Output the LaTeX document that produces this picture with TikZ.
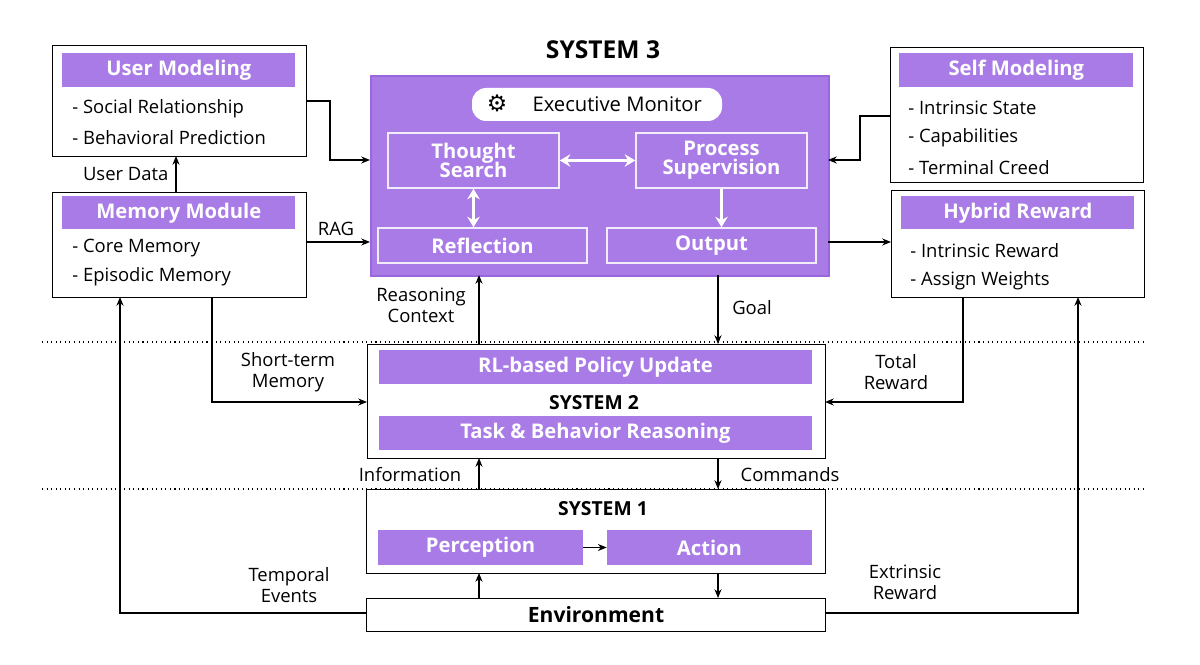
\documentclass[tikz,border=0pt]{standalone}
\usepackage{fontspec}
\setmainfont{Open Sans}
\usetikzlibrary{arrows.meta}
\definecolor{pp}{HTML}{A97BE6}
\definecolor{ppd}{HTML}{9A66DD}
\begin{document}
\begin{tikzpicture}[x=0.02cm,y=-0.02cm,
 box/.style={draw=black,line width=0.6pt,fill=white},
 hdr/.style={fill=pp,text=white,font=\bfseries\fontsize{11.5}{13}\selectfont,inner sep=0},
 item/.style={anchor=west,font=\fontsize{10.5}{12}\selectfont,inner sep=0},
 inner/.style={draw=white!85!pp,line width=0.8pt,text=white,font=\bfseries\fontsize{11.5}{13}\selectfont,inner sep=0,align=center},
 lab/.style={font=\fontsize{10.5}{12}\selectfont,align=center,inner sep=0},
 sys/.style={font=\rmfamily\bfseries\fontsize{11}{13}\selectfont,inner sep=0},
 arr/.style={-{Stealth[length=5pt,width=4pt]},line width=0.6pt},
 warr/.style={{Stealth[length=6pt,width=7pt]}-{Stealth[length=6pt,width=7pt]},white,line width=1.6pt}]
\useasboundingbox (0,0) rectangle (1200,665);
% user modeling
\node[box,minimum width=254*0.02cm,minimum height=111*0.02cm,anchor=north west] (um) at (52,45) {};
\node[hdr,minimum width=233*0.02cm,minimum height=34*0.02cm,anchor=north west] (umh) at (62,53) {User Modeling};
\node[item] (um1) at (72,109) {- Social Relationship};
\node[item] (um2) at (72,138) {- Behavioral Prediction};
% memory
\node[box,minimum width=254*0.02cm,minimum height=105*0.02cm,anchor=north west] (mm) at (52,192) {};
\node[hdr,minimum width=233*0.02cm,minimum height=33*0.02cm,anchor=north west] (mmh) at (62,196) {Memory Module};
\node[item] (mm1) at (72,248) {- Core Memory};
\node[item] (mm2) at (72,277) {- Episodic Memory};
% self modeling
\node[box,minimum width=253*0.02cm,minimum height=135*0.02cm,anchor=north west] (sm) at (890,47) {};
\node[hdr,minimum width=234*0.02cm,minimum height=34*0.02cm,anchor=north west] (smh) at (899,53) {Self Modeling};
\node[item] (sm1) at (908,108) {- Intrinsic State};
\node[item] (sm2) at (908,138) {- Capabilities};
\node[item] (sm3) at (908,168) {- Terminal Creed};
% hybrid reward
\node[box,minimum width=253*0.02cm,minimum height=107*0.02cm,anchor=north west] (hr) at (891,190) {};
\node[hdr,minimum width=233*0.02cm,minimum height=33*0.02cm,anchor=north west] (hrh) at (901,196) {Hybrid Reward};
\node[item] (hr1) at (910,251) {- Intrinsic Reward};
\node[item] (hr2) at (910,281) {- Assign Weights};
% system 3
\node[sys,font=\rmfamily\bfseries\fontsize{14}{16}\selectfont] (t3) at (603,50) {SYSTEM 3};
\node[draw=ppd,line width=1.2pt,fill=pp,minimum width=458*0.02cm,minimum height=200*0.02cm,anchor=north west,inner sep=0] (s3) at (370,75) {};
\node[fill=white,rounded corners=8pt,minimum width=250*0.02cm,minimum height=33*0.02cm,font=\fontsize{11.5}{13}\selectfont,inner sep=0] (em) at (597,104.5) {\hspace{2em}Executive Monitor};
\node[font=\fontsize{13}{13}\selectfont,inner sep=0] (head) at (497,103) {\fontspec{DejaVu Sans}⚙};
\node[inner,minimum width=171*0.02cm,minimum height=55*0.02cm] (ts) at (473.5,160.5) {Thought\\[-2pt]Search};
\node[inner,minimum width=171*0.02cm,minimum height=55*0.02cm] (ps) at (721.5,160.5) {Process\\[-2pt]Supervision};
\node[inner,minimum width=209*0.02cm,minimum height=35*0.02cm] (rf) at (482.5,245.5) {Reflection};
\node[inner,minimum width=209*0.02cm,minimum height=35*0.02cm] (op) at (711.5,245.5) {Output};
\draw[warr] (ts) -- (ps);
\draw[warr] (ts) -- (ts|-rf.north);
\draw[-{Stealth[length=6pt,width=7pt]},white,line width=1.6pt] (ps) -- (ps|-op.north);
% system 2
\node[box,minimum width=458*0.02cm,minimum height=114*0.02cm,anchor=north west] (s2) at (367,344) {};
\node[hdr,minimum width=433*0.02cm,minimum height=34*0.02cm] (rl) at (595.5,367) {RL-based Policy Update};
\node[sys] (t2) at (594,403) {SYSTEM 2};
\node[hdr,minimum width=433*0.02cm,minimum height=34*0.02cm] (tb) at (595.5,433) {Task \& Behavior Reasoning};
% system 1
\node[box,minimum width=459*0.02cm,minimum height=84*0.02cm,anchor=north west] (s1) at (366,489) {};
\node[sys] (t1) at (603,509) {SYSTEM 1};
\node[hdr,minimum width=205*0.02cm,minimum height=35*0.02cm] (pe) at (480.5,547.5) {Perception};
\node[hdr,minimum width=205*0.02cm,minimum height=35*0.02cm] (ac) at (709.5,547.5) {Action};
\draw[arr] (pe) -- (ac);
% environment
\node[box,minimum width=459*0.02cm,minimum height=33*0.02cm,anchor=north west] (env) at (366,598) {};
\node[sys,font=\rmfamily\bfseries\fontsize{12}{13}\selectfont] at (env.center) {Environment};
% dotted lines
\coordinate (d1a) at (42,342); \coordinate (d1b) at (1145,342);
\coordinate (d2a) at (42,489); \coordinate (d2b) at (1145,489);
\draw[dotted,line width=0.6pt] (d1a) -- (d1b);
\draw[dotted,line width=0.6pt] (d2a) -- (d2b);
% connectors
\draw[arr] (176,192) -- (176,156) node[lab,pos=0.5,left=4pt] {User Data};
\draw[arr] (306,101) -- (330,101) -- (330,160) -- (370,160);
\draw[arr] (890,116) -- (860,116) -- (860,160) -- (828,160);
\draw[arr] (306,242) -- (370,242);
\node[lab] at (336,229) {RAG};
\draw[arr] (828,242) -- (891,242);
\draw[arr] (479,344) -- (479,275);
\node[lab] at (421,305) {Reasoning\\Context};
\draw[arr] (718,275) -- (718,344);
\node[lab] at (752,308) {Goal};
\draw[arr] (212,297) -- (212,402) -- (367,402);
\node[lab] at (288,372) {Short-term\\Memory};
\draw[arr] (963,297) -- (963,402) -- (825,402);
\node[lab] at (896,372) {Total\\Reward};
\draw[arr] (479,489) -- (479,458);
\node[lab] at (410,475) {Information};
\draw[arr] (718,458) -- (718,489);
\node[lab] at (790,475) {Commands};
\draw[arr] (479,598) -- (479,573);
\draw[arr] (718,573) -- (718,598);
\draw[arr] (366,613) -- (120,613) -- (120,297);
\node[lab] at (289,585) {Temporal\\Events};
\draw[arr] (825,613) -- (1078,613) -- (1078,297);
\node[lab] at (905,582) {Extrinsic\\Reward};
\end{tikzpicture}
\end{document}
